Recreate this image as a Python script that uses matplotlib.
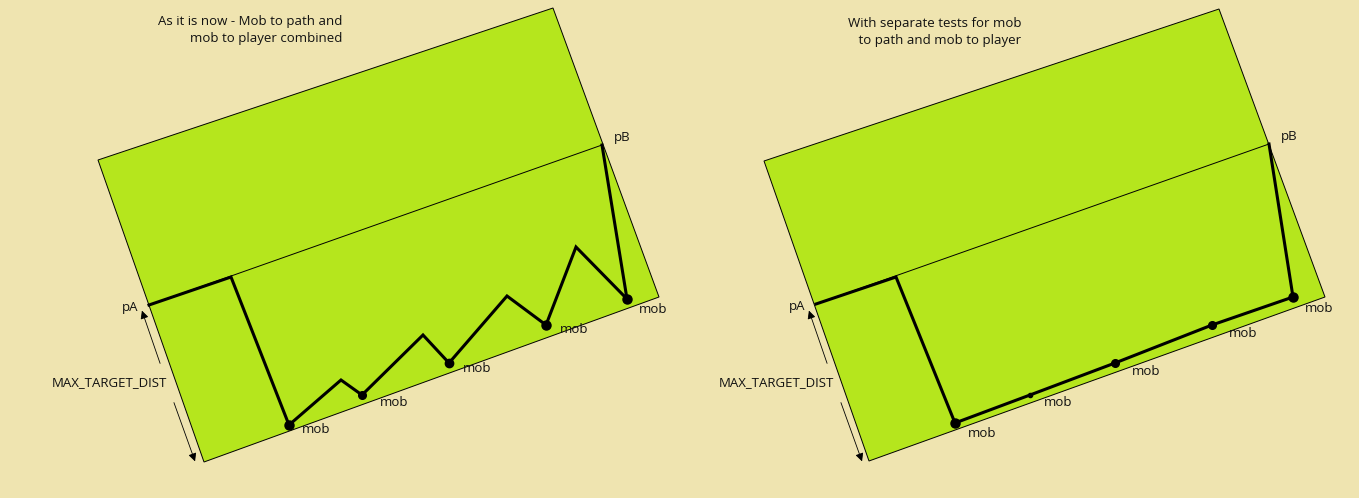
import matplotlib
matplotlib.use('Agg')
import matplotlib.pyplot as plt
from matplotlib.patches import Polygon

# two panels, pixel coordinates (y runs downwards)
rect_left = [(98, 160), (553, 8), (659, 297), (204, 462)]
rect_right = [(764, 161), (1219, 9), (1325, 297), (869, 461)]

pa_left, pb_left = (149, 305), (602, 145)
pa_right, pb_right = (816, 304), (1269, 144)

# mob to path and mob to player combined
path_left_x = [149, 231, 289, 341, 362, 423, 449, 507, 546, 576, 627, 602]
path_left_y = [305, 277, 425, 380, 395, 335, 363, 296, 325, 247, 299, 145]
mobs_left_x = [289, 362, 449, 546, 627]
mobs_left_y = [425, 395, 363, 325, 299]
mob_sizes_left = [6.5, 5.5, 6, 6.5, 6.5]

# separate tests
path_right_x = [816, 896, 955, 1030, 1115, 1212, 1293, 1269]
path_right_y = [304, 277, 423, 395, 363, 325, 297, 144]
mobs_right_x = [955, 1030, 1115, 1212, 1293]
mobs_right_y = [423, 395, 363, 325, 297]
mob_sizes_right = [6.5, 3, 5.5, 5.5, 6.5]

mob_labels_left = [(302, 429), (380, 402), (463, 368), (560, 329), (639, 309)]
mob_labels_right = [(968, 433), (1044, 402), (1132, 371), (1229, 333), (1305, 308)]

titles = ['As it is now - Mob to path and\nmob to player combined',
          'With separate tests for mob\n to path and mob to player']
title_pos = [(342, 30), (1021, 32)]

bg = '#efe4b0'
green = '#b5e61d'
ink = '#111111'
fnt = ['Open Sans', 'DejaVu Sans']

fig = plt.figure(figsize=(13.59, 4.98), dpi=100, facecolor=bg)
ax = fig.add_axes([0, 0, 1, 1])
ax.set_xlim(0, 1359)
ax.set_ylim(498, 0)
ax.axis('off')

for rect, pa, pb in [(rect_left, pa_left, pb_left), (rect_right, pa_right, pb_right)]:
  ax.add_patch(Polygon(rect, closed=True, facecolor=green, edgecolor='black', lw=0.7))
  ax.plot([pa[0], pb[0]], [pa[1], pb[1]], color='black', lw=0.7)

ax.plot(path_left_x, path_left_y, color='black', lw=2.2, solid_joinstyle='miter')
ax.plot(path_right_x, path_right_y, color='black', lw=2.2, solid_joinstyle='miter')
for x, y, s in zip(mobs_left_x, mobs_left_y, mob_sizes_left):
  ax.plot(x, y, 'o', color='black', ms=s)
for x, y, s in zip(mobs_right_x, mobs_right_y, mob_sizes_right):
  ax.plot(x, y, 'o', color='black', ms=s)

for x, y in mob_labels_left + mob_labels_right:
  ax.text(x, y, 'mob', family=fnt, fontsize=9.5, color=ink, va='center', ha='left')

for pa, pb in [(pa_left, pb_left), (pa_right, pb_right)]:
  ax.text(pa[0] - 27, pa[1] + 2, 'pA', family=fnt, fontsize=9.5, color=ink, va='center')
  ax.text(pb[0] + 12, pb[1] - 8, 'pB', family=fnt, fontsize=9.5, color=ink, va='center')

for (x, y), t in zip(title_pos, titles):
  ax.text(x, y, t, family=fnt, fontsize=9.5, color=ink, ha='right', va='center',
          multialignment='right', linespacing=1.45)

# MAX_TARGET_DIST double arrows with gap for the label
for dx in [0, 667]:
  ax.annotate('', xy=(141 + dx, 308), xytext=(161 + dx, 366),
              arrowprops=dict(arrowstyle='-|>', color='black', lw=0.6, mutation_scale=12))
  ax.annotate('', xy=(196 + dx, 464), xytext=(173 + dx, 400),
              arrowprops=dict(arrowstyle='-|>', color='black', lw=0.6, mutation_scale=12))
  ax.text(167 + dx, 383, 'MAX_TARGET_DIST', family=fnt, fontsize=9.5, color=ink,
          ha='right', va='center')

fig.savefig('out.png', dpi=100, facecolor=bg)
